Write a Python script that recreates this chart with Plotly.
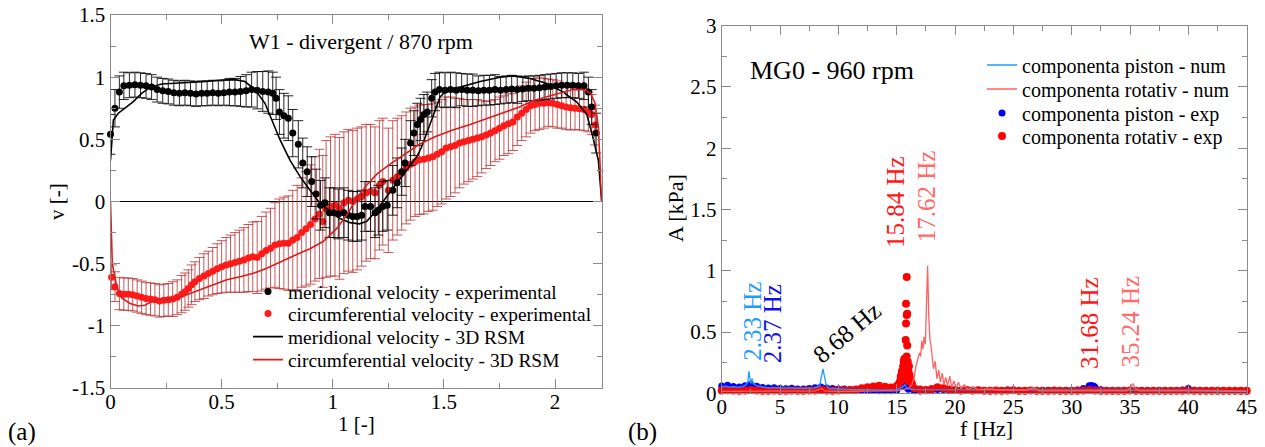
import plotly.graph_objects as go

W, H = 1265, 447
def px(x): return x / W
def py(y): return 1 - y / H

FONT = "Liberation Serif, Times New Roman, serif"

# ---------------- (a) velocity profiles ----------------
mer_l = [0.000,0.020,0.040,0.060,0.085,0.110,0.135,0.160,0.185,0.210,
         0.235,0.260,0.285,0.310,0.335,0.360,0.385,0.410,0.435,0.460,
         0.485,0.510,0.535,0.560,0.585,0.610,0.635,0.660,0.685,0.710,
         0.730,0.745,0.760,0.780,0.800,0.820,0.845,0.865,0.885,0.905,
         0.925,0.945,0.965,0.985,1.005,1.025,1.050,1.070,1.090,1.110,
         1.130,1.145,1.170,1.190,1.205,1.225,1.245,1.270,1.290,1.310,
         1.325,1.350,1.365,1.380,1.395,1.410,1.425,1.445,1.460,1.480,
         1.505,1.530,1.555,1.580,1.605,1.630,1.655,1.680,1.705,1.730,
         1.755,1.780,1.805,1.830,1.855,1.880,1.905,1.930,1.955,1.980,
         2.005,2.030,2.055,2.080,2.105,2.130,2.150,2.165,2.185]
mer_v = [0.54,0.75,0.88,0.93,0.935,0.94,0.935,0.93,0.92,0.90,
         0.89,0.885,0.875,0.87,0.875,0.87,0.865,0.87,0.87,0.875,
         0.87,0.875,0.88,0.88,0.885,0.89,0.90,0.895,0.885,0.88,
         0.87,0.83,0.72,0.69,0.67,0.55,0.46,0.31,0.24,0.16,
         0.06,-0.03,-0.01,-0.09,-0.09,-0.10,-0.09,-0.11,-0.12,-0.12,
         -0.11,-0.04,-0.04,-0.09,-0.07,-0.04,-0.03,0.09,0.15,0.24,
         0.31,0.47,0.55,0.62,0.66,0.70,0.72,0.83,0.88,0.90,
         0.895,0.90,0.895,0.90,0.895,0.895,0.89,0.895,0.895,0.90,
         0.895,0.90,0.905,0.90,0.905,0.91,0.91,0.915,0.92,0.925,
         0.93,0.935,0.935,0.935,0.93,0.93,0.88,0.76,0.55]
mer_err = [0.16,0.15,0.13,0.11,0.10,0.10,0.10,0.10,0.10,0.10,
           0.10,0.10,0.10,0.10,0.10,0.10,0.10,0.10,0.10,0.10,
           0.10,0.10,0.11,0.11,0.12,0.13,0.14,0.15,0.16,0.17,
           0.17,0.17,0.18,0.18,0.18,0.19,0.19,0.20,0.20,0.20,
           0.20,0.20,0.20,0.20,0.20,0.20,0.20,0.20,0.20,0.20,
           0.20,0.20,0.20,0.20,0.20,0.20,0.20,0.20,0.20,0.19,
           0.19,0.18,0.18,0.17,0.17,0.16,0.16,0.15,0.15,0.14,
           0.14,0.14,0.14,0.13,0.13,0.13,0.12,0.12,0.12,0.12,
           0.11,0.11,0.11,0.11,0.10,0.10,0.10,0.10,0.10,0.10,
           0.10,0.10,0.10,0.10,0.10,0.11,0.12,0.14,0.16]

circ_l = [0.005,0.020,0.040,0.060,0.080,0.100,0.120,0.140,0.160,0.180,
          0.200,0.220,0.240,0.260,0.280,0.300,0.320,0.335,0.350,0.365,
          0.380,0.400,0.420,0.440,0.460,0.480,0.500,0.520,0.540,0.560,
          0.580,0.600,0.620,0.640,0.660,0.680,0.700,0.720,0.740,0.760,
          0.780,0.800,0.820,0.840,0.860,0.880,0.900,0.920,0.940,0.955,
          0.970,0.990,1.010,1.030,1.050,1.070,1.090,1.110,1.130,1.150,
          1.170,1.190,1.210,1.225,1.250,1.270,1.290,1.310,1.330,1.350,
          1.370,1.390,1.410,1.430,1.450,1.470,1.490,1.510,1.530,1.550,
          1.570,1.590,1.610,1.630,1.650,1.670,1.690,1.710,1.730,1.750,
          1.770,1.790,1.810,1.830,1.850,1.870,1.890,1.910,1.930,1.950,
          1.970,1.990,2.010,2.030,2.050,2.070,2.090,2.110,2.130,2.150,2.165,2.180]
circ_v = [-0.61,-0.685,-0.74,-0.745,-0.745,-0.75,-0.76,-0.77,-0.78,-0.785,
          -0.79,-0.80,-0.795,-0.79,-0.785,-0.77,-0.745,-0.725,-0.70,-0.67,
          -0.645,-0.62,-0.60,-0.58,-0.56,-0.54,-0.525,-0.51,-0.50,-0.49,
          -0.48,-0.47,-0.455,-0.445,-0.45,-0.42,-0.395,-0.375,-0.35,-0.34,
          -0.335,-0.335,-0.31,-0.29,-0.25,-0.22,-0.185,-0.14,-0.10,-0.16,
          -0.06,-0.04,-0.03,-0.055,-0.01,0.01,0.0,0.02,0.04,0.07,
          0.08,0.07,0.13,0.16,0.09,0.17,0.20,0.23,0.27,0.30,
          0.32,0.335,0.34,0.35,0.36,0.38,0.40,0.43,0.44,0.45,
          0.47,0.48,0.49,0.50,0.51,0.52,0.535,0.55,0.57,0.59,
          0.61,0.625,0.64,0.68,0.71,0.74,0.77,0.78,0.79,0.79,
          0.795,0.79,0.78,0.77,0.76,0.755,0.75,0.745,0.74,0.72,0.70,0.615]
circ_err = [0.10,0.12,0.13,0.13,0.13,0.13,0.13,0.13,0.13,0.13,
            0.13,0.13,0.13,0.13,0.14,0.14,0.15,0.15,0.15,0.16,
            0.16,0.17,0.18,0.18,0.19,0.20,0.21,0.22,0.23,0.24,
            0.25,0.26,0.27,0.28,0.29,0.30,0.31,0.32,0.34,0.36,
            0.37,0.38,0.40,0.42,0.44,0.46,0.48,0.50,0.52,0.53,
            0.55,0.56,0.57,0.57,0.57,0.57,0.57,0.57,0.56,0.55,
            0.54,0.53,0.52,0.51,0.50,0.48,0.47,0.46,0.45,0.45,
            0.44,0.44,0.44,0.43,0.43,0.42,0.42,0.41,0.40,0.38,
            0.36,0.34,0.33,0.32,0.31,0.29,0.27,0.26,0.25,0.25,
            0.24,0.24,0.23,0.23,0.22,0.22,0.22,0.21,0.21,0.20,
            0.19,0.19,0.19,0.18,0.18,0.18,0.17,0.17,0.17,0.16,0.16,0.16]

rsm_mer_l = [0.0,0.013,0.035,0.065,0.10,0.14,0.18,0.23,0.30,0.37,0.43,0.50,0.56,0.605,
             0.65,0.695,0.72,0.763,0.808,0.853,0.898,0.943,0.988,1.03,1.078,1.12,1.153,
             1.198,1.243,1.288,1.333,1.378,1.40,1.423,1.44,1.483,1.513,1.573,1.663,1.753,
             1.81,1.888,1.963,2.037,2.098,2.143,2.17,2.195,2.21]
rsm_mer_v = [0.33,0.655,0.71,0.75,0.80,0.87,0.92,0.945,0.95,0.955,0.965,0.977,0.98,0.965,
             0.90,0.79,0.68,0.495,0.33,0.20,0.09,-0.015,-0.08,-0.135,-0.17,-0.18,-0.16,
             -0.07,0.04,0.146,0.25,0.36,0.44,0.55,0.63,0.84,0.90,0.92,0.965,1.0,
             1.01,0.99,0.95,0.88,0.80,0.70,0.52,0.33,0.0]

rsm_circ_l = [0.0,0.008,0.028,0.05,0.088,0.125,0.155,0.178,0.22,0.283,0.343,0.403,0.463,
              0.523,0.583,0.643,0.703,0.763,0.808,0.858,0.898,0.958,1.018,1.063,1.108,
              1.153,1.198,1.258,1.318,1.39,1.46,1.54,1.618,1.69,1.78,1.84,1.90,1.96,
              2.02,2.08,2.13,2.16,2.18,2.195,2.21]
rsm_circ_v = [0.0,-0.5,-0.685,-0.775,-0.82,-0.84,-0.835,-0.81,-0.79,-0.787,-0.75,-0.71,-0.67,
              -0.63,-0.605,-0.578,-0.537,-0.484,-0.45,-0.41,-0.38,-0.32,-0.216,-0.109,0.026,
              0.133,0.22,0.30,0.37,0.46,0.52,0.575,0.62,0.665,0.72,0.76,0.81,0.84,
              0.87,0.90,0.90,0.87,0.79,0.6,0.0]

a_yticks = [-1.5, -1, -0.5, 0, 0.5, 1, 1.5]
a_yticktext = ["-1.5", "-1", "-0.5", "0", "0.5", "1", "1.5"]
a_xticks = [0, 0.5, 1, 1.5, 2]
a_xticktext = ["0", "0.5", "1", "1.5", "2"]

# ---------------- (b) pressure spectra ----------------
pist_exp_f = [0,0.5,1,1.5,2,2.5,3,3.5,4,4.5,5,5.5,6,6.5,7,7.5,8,8.5,9,9.5,
              10,10.5,11,11.5,12,12.5,13,13.5,14,14.5,15,15.5,16,16.5,17,17.5,18,18.5,19,19.5,
              20,20.5,21,21.5,22,22.5,23,23.5,24,24.5,25,25.5,26,26.5,27,27.5,28,28.5,29,29.5,
              30,30.5,31,31.5,32,32.5,33,33.5,34,34.5,35,35.5,36,36.5,37,37.5,38,38.5,39,39.5,
              40,40.5,41,41.5,42,42.5,43,43.5,44,44.5,45,15.6,15.7,15.8,31.7,31.9]
pist_exp_a = [0.060,0.066,0.056,0.052,0.062,0.072,0.058,0.048,0.044,0.046,
              0.040,0.038,0.042,0.036,0.036,0.040,0.046,0.052,0.044,0.040,
              0.036,0.036,0.032,0.030,0.026,0.024,0.022,0.020,0.020,0.020,
              0.024,0.058,0.034,0.020,0.018,0.020,0.026,0.030,0.030,0.026,
              0.024,0.020,0.022,0.020,0.024,0.022,0.020,0.020,0.022,0.026,
              0.024,0.020,0.020,0.022,0.020,0.020,0.022,0.020,0.020,0.022,
              0.022,0.026,0.040,0.062,0.050,0.028,0.022,0.020,0.020,0.020,
              0.022,0.020,0.020,0.020,0.022,0.020,0.020,0.020,0.022,0.026,
              0.040,0.024,0.020,0.020,0.020,0.020,0.020,0.020,0.020,0.018,0.018,
              0.070,0.060,0.050,0.064,0.058]

rot_exp_f = [0,0.5,1,1.5,2,2.5,3,3.5,4,4.5,5,5.5,6,6.5,7,7.5,8,8.5,9,9.5,
             10,10.5,11,11.5,12,12.5,13,13.5,14,14.5,15,15.5,16,16.5,17,17.5,18,18.5,19,19.5,
             20,20.5,21,21.5,22,22.5,23,23.5,24,24.5,25,25.5,26,26.5,27,27.5,28,28.5,29,29.5,
             30,30.5,31,31.5,32,32.5,33,33.5,34,34.5,35,35.5,36,36.5,37,37.5,38,38.5,39,39.5,
             40,40.5,41,41.5,42,42.5,43,43.5,44,44.5,45,
             15.2,15.3,15.35,15.4,15.45,15.5,15.55,15.6,15.6,15.65,15.65,15.7,15.7,15.75,15.77,
             15.8,15.8,15.86,15.86,15.9,15.9,15.85,15.9,15.95,16.0,16.05,16.1,16.15,16.2,16.3,
             15.95,15.75]
rot_exp_a = [0.022,0.024,0.022,0.020,0.022,0.026,0.022,0.020,0.020,0.022,
             0.020,0.020,0.022,0.020,0.020,0.022,0.022,0.028,0.022,0.020,
             0.022,0.024,0.026,0.032,0.042,0.050,0.056,0.062,0.054,0.048,
             0.060,0.120,0.100,0.042,0.030,0.026,0.036,0.050,0.042,0.032,
             0.026,0.022,0.026,0.022,0.024,0.020,0.020,0.022,0.020,0.022,
             0.024,0.020,0.020,0.022,0.020,0.020,0.020,0.022,0.020,0.020,
             0.020,0.020,0.022,0.026,0.022,0.020,0.020,0.020,0.020,0.020,
             0.022,0.020,0.020,0.020,0.020,0.020,0.020,0.020,0.020,0.020,
             0.022,0.020,0.020,0.020,0.020,0.020,0.020,0.020,0.020,0.020,0.020,
             0.08,0.10,0.14,0.12,0.18,0.16,0.22,0.26,0.18,0.28,0.14,0.24,0.20,0.27,0.435,
             0.57,0.73,0.95,0.64,0.65,0.39,0.30,0.22,0.26,0.18,0.22,0.15,0.12,0.10,0.08,
             0.12,0.12]

pist_num_f = [0,0.3,0.6,1.0,1.4,1.8,2.1,2.25,2.33,2.42,2.5,2.6,2.7,3.0,3.5,4.0,5.0,6.0,7.0,
              8.0,8.4,8.55,8.68,8.8,8.95,9.2,10,11,12,13,14,15,15.5,15.7,15.9,16.5,18,20,
              25,30,35,40,45]
pist_num_a = [0.05,0.06,0.05,0.055,0.05,0.055,0.07,0.10,0.18,0.10,0.08,0.12,0.08,0.06,0.05,
              0.045,0.045,0.04,0.04,0.045,0.06,0.14,0.20,0.14,0.07,0.04,0.035,0.03,0.03,
              0.025,0.025,0.03,0.05,0.07,0.04,0.03,0.03,0.03,0.025,0.025,0.025,0.025,0.02]

rot_num_f = [0,2,5,8,8.6,8.8,10,12,14,15,15.5,16.0,16.3,16.5,16.65,16.8,16.95,17.05,17.15,
             17.25,17.35,17.45,17.55,17.65,17.75,17.85,17.95,18.05,18.15,18.3,18.45,18.6,
             18.75,18.9,19.05,19.2,19.35,19.55,19.7,19.9,20.1,20.3,20.5,20.8,21.1,21.5,22,
             23,24,26,26.8,27.2,30,34.7,35.0,35.24,35.45,35.8,40,45]
rot_num_a = [0.015,0.015,0.015,0.02,0.04,0.02,0.015,0.02,0.02,0.02,0.03,0.04,0.07,0.13,
             0.22,0.28,0.33,0.30,0.43,0.36,0.46,0.40,0.65,1.04,0.62,0.44,0.38,0.30,0.20,
             0.26,0.12,0.19,0.09,0.165,0.07,0.13,0.06,0.14,0.05,0.10,0.04,0.09,0.04,0.07,
             0.03,0.05,0.03,0.035,0.025,0.025,0.045,0.02,0.02,0.02,0.04,0.08,0.04,0.02,
             0.02,0.015]

b_peak_labels = ["2.33 Hz", "2.37 Hz", "8.68 Hz", "15.84 Hz", "17.62 Hz", "31.68 Hz", "35.24 Hz"]
b_peak_colors = ["#1e9bff", "#1010e6", "#000000", "#ff1414", "#ff6a6a", "#ff1414", "#ff6a6a"]
b_peak_f = [2.57, 4.42, 10.71, 14.85, 17.57, 31.57, 35.06]
b_peak_a = [0.59, 0.566, 0.50, 1.56, 1.605, 0.574, 0.584]
b_peak_angle = [-90, -90, -40, -90, -90, -90, -90]

AXC = "#8a8a8a"

fig = go.Figure()

# (a) traces  (each legend entry gets its own legend box so rows can be placed exactly)
fig.add_trace(go.Scatter(
    x=circ_l, y=circ_v, mode="markers", name="circumferential velocity - experimental",
    marker=dict(color="#ff1a1a", size=7),
    error_y=dict(type="data", array=circ_err, color="rgba(190,60,60,0.85)", thickness=1, width=5),
    xaxis="x", yaxis="y", legend="legend2", cliponaxis=False))
fig.add_trace(go.Scatter(
    x=mer_l, y=mer_v, mode="markers", name="meridional velocity - experimental",
    marker=dict(color="#000000", size=7),
    error_y=dict(type="data", array=mer_err, color="rgba(0,0,0,0.85)", thickness=1, width=5),
    xaxis="x", yaxis="y", legend="legend", cliponaxis=False))
fig.add_trace(go.Scatter(
    x=rsm_mer_l, y=rsm_mer_v, mode="lines", name="meridional velocity - 3D RSM",
    line=dict(color="#000000", width=1.6),
    xaxis="x", yaxis="y", legend="legend3"))
fig.add_trace(go.Scatter(
    x=rsm_circ_l, y=rsm_circ_v, mode="lines", name="circumferential velocity - 3D RSM",
    line=dict(color="#d81e1e", width=1.6),
    xaxis="x", yaxis="y", legend="legend4"))

# (b) traces
fig.add_trace(go.Scatter(
    x=pist_exp_f, y=pist_exp_a, mode="markers", name="componenta piston - exp",
    marker=dict(color="#0000ff", size=7), xaxis="x2", yaxis="y2",
    legend="legend7", cliponaxis=False))
fig.add_trace(go.Scatter(
    x=rot_exp_f, y=rot_exp_a, mode="markers", name="componenta rotativ - exp",
    marker=dict(color="#ff0000", size=8), xaxis="x2", yaxis="y2",
    legend="legend8", cliponaxis=False))
fig.add_trace(go.Scatter(
    x=pist_num_f, y=pist_num_a, mode="lines", name="componenta piston - num",
    line=dict(color="#1e9bff", width=1.3), xaxis="x2", yaxis="y2",
    legend="legend5"))
fig.add_trace(go.Scatter(
    x=rot_num_f, y=rot_num_a, mode="lines", name="componenta rotativ - num",
    line=dict(color="#ff6060", width=1.3), xaxis="x2", yaxis="y2",
    legend="legend6"))

axis_common = dict(showline=True, linecolor=AXC, linewidth=1, mirror="ticks",
                   ticks="inside", tickcolor=AXC, ticklen=9, tickwidth=1, automargin=False,
                   showgrid=False, tickfont=dict(family=FONT, size=21, color="black"))

def ann(text, x, y, size, angle=0, anchor="center"):
    return dict(text=text, x=px(x), y=py(y), xref="paper", yref="paper", xanchor=anchor,
                yanchor="middle", textangle=angle, showarrow=False,
                font=dict(family=FONT, size=size, color="black"))

annotations = [
    ann("W1 - divergent / 870 rpm", 361, 41, 22),
    ann("v [-]", 57, 201, 21, -90),
    ann("1 [-]", 356, 424, 21),
    ann("(a)", 22, 432, 25),
    ann("MG0 - 960 rpm", 748, 71, 26, 0, "left"),
    ann("A [kPa]", 676, 208, 22, -90),
    ann("f [Hz]", 986, 428, 22),
    ann("(b)", 642, 432, 25),
]
for t, c, f, a, ang in zip(b_peak_labels, b_peak_colors, b_peak_f, b_peak_a, b_peak_angle):
    annotations.append(dict(text=t, x=f, y=a, xref="x2", yref="y2", textangle=ang,
                            xanchor="center", yanchor="middle",
                            showarrow=False, font=dict(family=FONT, size=25, color=c)))

def leg(x, y, size):
    return dict(x=px(x), y=py(y), xanchor="left", yanchor="middle",
                bgcolor="rgba(0,0,0,0)", borderwidth=0,
                font=dict(family=FONT, size=size, color="black"))

fig.update_layout(
    template="none",
    width=W, height=H, margin=dict(l=0, r=0, t=0, b=0, autoexpand=False),
    paper_bgcolor="white", plot_bgcolor="white",
    font=dict(family=FONT, color="black"),
    xaxis=dict(domain=[px(110.5), px(601.7)], range=[0, 2.21], anchor="y",
               tickmode="array", tickvals=a_xticks, ticktext=a_xticktext, zeroline=False,
               ticklabelstandoff=-5,
               minor=dict(tickmode="linear", tick0=0, dtick=0.25, ticks="inside", ticklen=5,
                          tickcolor=AXC, showgrid=False),
               **axis_common),
    yaxis=dict(domain=[py(388), py(15)], range=[-1.5, 1.5], anchor="x",
               tickmode="array", tickvals=a_yticks, ticktext=a_yticktext,
               zeroline=True, zerolinecolor="black", zerolinewidth=1,
               minor=dict(tickmode="linear", tick0=0, dtick=0.25, ticks="inside", ticklen=5,
                          tickcolor=AXC, showgrid=False),
               **axis_common),
    xaxis2=dict(domain=[px(721.7), px(1246.7)], range=[0, 45], anchor="y2",
                tickmode="linear", tick0=0, dtick=5, zeroline=False,
                ticklabelstandoff=-6,
                minor=dict(tickmode="linear", tick0=0, dtick=2.5, ticks="inside", ticklen=5,
                           tickcolor=AXC, showgrid=False),
                **axis_common),
    yaxis2=dict(domain=[py(393.3), py(25.7)], range=[0, 3], anchor="x2",
                tickmode="linear", tick0=0, dtick=0.5, zeroline=False,
                minor=dict(tickmode="linear", tick0=0, dtick=0.25, ticks="inside", ticklen=5,
                           tickcolor=AXC, showgrid=False),
                **axis_common),
    legend=leg(248, 292, 19.4),
    legend2=leg(248, 314, 19.4),
    legend3=leg(248, 337, 19.4),
    legend4=leg(248, 360, 19.4),
    legend5=leg(982, 65, 20),
    legend6=leg(982, 89, 20),
    legend7=leg(982, 113, 20),
    legend8=leg(982, 136, 20),
    annotations=annotations,
    showlegend=True,
)

fig.write_html("out.html", config={"displayModeBar": False},
               post_script="document.body.style.margin='0px';document.body.style.overflow='hidden';")
